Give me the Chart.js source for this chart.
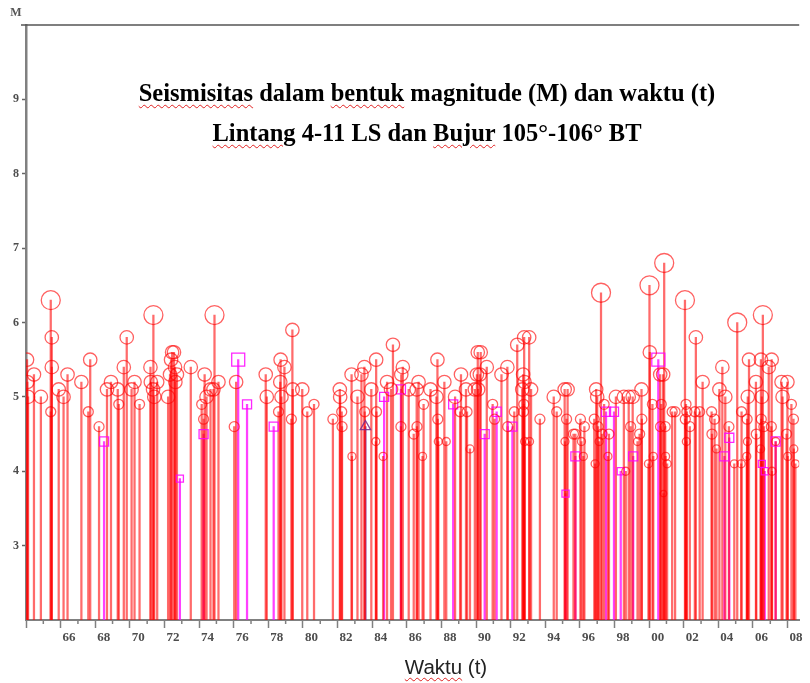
<!DOCTYPE html>
<html>
<head>
<meta charset="utf-8">
<script src="https://cdn.jsdelivr.net/npm/chart.js@4.4.1/dist/chart.umd.min.js"></script>
<style>
  html, body { margin: 0; padding: 0; background: #fff; overflow: hidden; }
  #wrap { position: relative; width: 810px; height: 683px; }
  #chart { position: absolute; left: 0; top: 0; }
  .ttl {
    position: absolute; left: 0; width: 854px; text-align: center;
    font-family: "Liberation Serif", "Times New Roman", serif; font-weight: bold;
    font-size: 24.5px; line-height: 30px; color: #000; white-space: nowrap;
  }
  .xlab {
    position: absolute; left: 0; width: 892px; top: 655px; text-align: center;
    font-family: "Liberation Sans", Arial, sans-serif; font-size: 20.5px; color: #222;
  }
  .spell { text-decoration: underline wavy #e02020; text-decoration-thickness: 1px; text-underline-offset: 3px; }
</style>
</head>
<body>
<div id="wrap">
  <canvas id="chart" width="810" height="683"></canvas>
  <div class="ttl" style="top:78px"><span class="spell">Seismisitas</span> dalam <span class="spell">bentuk</span> magnitude (M) dan waktu (t)</div>
  <div class="ttl" style="top:118px"><span class="spell">Lintang</span> 4-11 LS dan <span class="spell">Bujur</span> 105°-106° BT</div>
  <div class="xlab"><span class="spell">Waktu</span> (t)</div>
</div>
<script>
// Earthquake events (time in years, magnitude M)
const circleYears = [
  1964.06, 1964.08, 1964.12, 1964.46, 1964.86, 1965.43, 1965.49, 1965.49, 1965.43, 1965.89,
  1966.17, 1966.40, 1967.20, 1967.71, 1967.60, 1968.22, 1968.68, 1968.91, 1969.30, 1969.36,
  1969.65, 1969.82, 1970.10, 1970.27, 1970.56, 1971.19, 1971.36, 1971.21, 1971.34, 1971.41,
  1971.58, 1972.21, 1972.32, 1972.44, 1972.38,
  1972.55, 1972.61, 1972.72, 1972.63, 1973.52, 1974.32, 1974.15, 1974.26, 1974.43, 1974.66,
  1974.89, 1975.12, 1974.83, 1976.14, 1976.03, 1977.85, 1977.91, 1978.71, 1978.93, 1978.69,
  1978.76, 1978.59, 1979.39, 1979.41, 1979.33, 1979.96, 1980.25, 1980.64,
  1981.73, 1982.13, 1982.15, 1982.24, 1982.26, 1982.81, 1982.83, 1983.15, 1983.38, 1983.55,
  1983.57, 1984.23, 1983.95, 1984.25, 1984.21, 1984.63, 1984.86, 1985.20, 1985.09, 1985.66,
  1985.77, 1985.68, 1986.11, 1986.68, 1986.57, 1986.59, 1986.40, 1986.97, 1986.91, 1987.37,
  1987.77, 1987.71, 1987.79, 1987.82, 1988.17, 1988.28, 1988.79, 1989.13, 1989.08, 1989.48,
  1989.65, 1989.42, 1989.93, 1990.10, 1990.05,
  1990.27, 1990.22, 1990.62, 1990.12, 1990.96, 1991.07, 1991.47, 1991.81, 1991.83, 1992.21,
  1992.38, 1992.78, 1993.07, 1992.72, 1992.80, 1992.67, 1993.18, 1992.76, 1992.74, 1992.81,
  1993.09, 1993.69, 1994.49, 1994.66, 1995.12, 1995.29, 1995.23, 1995.14, 1995.63, 1995.74,
  1996.03, 1996.26, 1996.09, 1996.20, 1996.94, 1997.00, 1997.22, 1996.83, 1997.05, 1996.88,
  1997.11, 1997.28, 1997.62, 1997.68, 1997.40, 1998.08, 1998.54, 1998.82, 1998.65, 1998.93,
  2000.02, 2000.87, 2000.04, 2000.64, 2000.81, 1999.56, 1999.05, 2000.19, 2000.70, 2001.33,
  2001.50, 1999.58, 1999.45, 1999.33, 1999.96, 2000.24, 2000.66, 2000.93, 2000.95, 2001.04,
  2000.83, 2002.07, 2002.70, 2003.09, 2002.13, 2002.18, 2002.09, 2002.15, 2002.35, 2002.64,
  2002.92, 2003.61, 2003.78, 2003.63, 2003.89, 2004.23, 2004.06, 2004.40, 2004.61, 2004.92,
  2005.32, 2005.09, 2005.34, 2005.66, 2005.68, 2005.64, 2005.77, 2006.46, 2007.08, 2006.57,
  2006.17, 2005.70, 2006.51, 2006.91, 2006.48, 2006.63, 2006.19, 2006.44, 2007.10, 2007.06,
  2007.31, 2007.65, 2007.99, 2007.71, 2008.22, 2008.34, 2007.94, 2008.36, 2008.01, 2008.45
];
const circleMags = [
  5.5, 5.2, 5.0, 5.3, 5.0, 6.3, 5.8, 5.4, 4.8, 5.1,
  5.0, 5.3, 5.2, 5.5, 4.8, 4.6, 5.1, 5.2, 5.1, 4.9,
  5.4, 5.8, 5.1, 5.2, 4.9, 5.4, 6.1, 5.2, 5.1, 5.0,
  5.2, 5.0, 5.3, 5.6, 5.5,
  5.6, 5.4, 5.3, 5.2, 5.4, 5.3, 4.9, 4.7, 5.0, 5.1,
  6.1, 5.2, 5.1, 5.2, 4.6, 5.3, 5.0, 5.5, 5.4, 5.2,
  5.0, 4.8, 5.9, 5.1, 4.7, 5.1, 4.8, 4.9,
  4.7, 5.1, 5.0, 4.8, 4.6, 5.3, 4.2, 5.0, 5.3, 5.4,
  4.8, 5.5, 5.1, 4.8, 4.4, 4.2, 5.2, 5.7, 5.1, 4.6,
  5.4, 5.3, 5.1, 5.2, 5.1, 4.6, 4.5, 4.9, 4.2, 5.1,
  5.5, 5.0, 4.7, 4.4, 5.2, 4.4, 5.0, 5.3, 4.8, 4.8,
  4.3, 5.1, 5.1, 5.6, 5.3,
  5.6, 5.3, 5.4, 5.1, 4.9, 4.7, 5.3, 5.4, 4.6, 4.8,
  5.7, 5.8, 5.8, 5.3, 5.2, 5.1, 5.1, 4.9, 4.8, 4.4,
  4.4, 4.7, 5.0, 4.8, 5.1, 5.1, 4.7, 4.4, 4.5, 4.5,
  4.7, 4.6, 4.4, 4.2, 5.1, 5.0, 6.4, 4.7, 4.6, 4.1,
  4.4, 4.5, 4.2, 4.5, 4.9, 5.0, 5.0, 5.0, 4.0, 4.6,
  6.5, 6.8, 5.6, 5.3, 5.3, 5.1, 5.0, 4.9, 4.9, 4.8,
  4.8, 4.7, 4.5, 4.4, 4.1, 4.2, 4.6, 4.6, 4.2, 4.1,
  3.7, 6.3, 5.8, 5.2, 4.9, 4.8, 4.7, 4.4, 4.6, 4.8,
  4.8, 4.8, 4.7, 4.5, 4.3, 5.4, 5.1, 5.0, 4.6, 4.1,
  4.1, 6.0, 4.8, 4.7, 4.4, 4.2, 5.5, 5.5, 5.5, 6.1,
  5.2, 5.0, 5.0, 5.4, 4.7, 4.6, 4.5, 4.3, 4.0, 4.6,
  4.4, 5.2, 5.2, 5.0, 4.9, 4.7, 4.5, 4.3, 4.2, 4.1
];
const squareYears = [
  1968.51, 1972.89, 1974.26, 1976.26, 1976.77, 1978.31, 1984.69, 1985.66, 1988.68, 1990.50,
  1991.19, 1992.10, 1995.17, 1995.74, 1997.51, 1997.97, 1998.36, 1999.08, 2000.53, 2004.63,
  2004.35, 2006.51, 2006.68, 2007.31
];
const squareMags = [
  4.4, 3.9, 4.5, 5.5, 4.9, 4.6, 5.0, 5.1, 4.9, 4.5,
  4.8, 4.6, 3.7, 4.2, 4.8, 4.8, 4.0, 4.2, 5.5, 4.45,
  4.2, 4.1, 4.0, 4.4
];
const triangleYears = [1983.61];
const triangleMags = [4.6];

const yMin = 2, yMax = 10;
const xMin = 1964, xMax = 2008.67;
const yTickLabels = [3, 4, 5, 6, 7, 8, 9];

const toPoints = (xs, ys) => xs.map((x, i) => ({ x: x, y: ys[i] }));
const circles = toPoints(circleYears, circleMags);
const squares = toPoints(squareYears, squareMags);
const triangles = toPoints(triangleYears, triangleMags);

function circleRadius(m) {
    if (m >= 6) return 9.5;
    if (m >= 5) return 6.7;
    if (m >= 4.5) return 5;
    if (m >= 4) return 4;
    return 3.2;
}
function squareRadius(m) {
    if (m >= 5.5) return 9.2;
    if (m >= 4.2) return 6.4;
    return 5;
}

// top frame line, "M" label and short minor ticks on the time axis
const framePlugin = {
    id: 'frame',
    afterDraw(chart) {
        const c = chart.ctx;
        const area = chart.chartArea;
        const xs = chart.scales.x;
        c.save();
        c.strokeStyle = '#555';
        c.lineWidth = 1.5;
        c.beginPath();
        c.moveTo(area.left - 5, area.top);
        c.lineTo(area.right, area.top);
        c.stroke();

        c.strokeStyle = '#808080';
        c.lineWidth = 1.5;
        for (let yr = xMin + 1; yr <= xMax; yr += 2) {
            const px = xs.getPixelForValue(yr);
            c.beginPath();
            c.moveTo(px, area.bottom);
            c.lineTo(px, area.bottom + 4);
            c.stroke();
        }

        c.fillStyle = '#555';
        c.font = 'bold 12px "Liberation Serif", serif';
        c.textAlign = 'center';
        c.textBaseline = 'middle';
        c.fillText('M', 16, 13);
        c.restore();
    }
};

const ctx = document.getElementById('chart').getContext('2d');
new Chart(ctx, {
    type: 'scatter',
    data: {
        datasets: [
            {
                type: 'bar', data: circles, backgroundColor: 'rgba(255, 0, 0, 0.58)',
                barThickness: 1.6, grouped: false, order: 3
            },
            {
                type: 'bar', data: squares, backgroundColor: 'rgba(255, 0, 255, 0.75)',
                barThickness: 1.6, grouped: false, order: 3
            },
            {
                type: 'bar', data: triangles, backgroundColor: 'rgba(120, 40, 140, 0.8)',
                barThickness: 1.6, grouped: false, order: 3
            },
            {
                type: 'scatter', data: circles, pointStyle: 'circle',
                pointRadius: c => circleRadius(c.raw.y),
                pointBorderColor: 'rgba(255, 0, 0, 0.62)',
                pointBackgroundColor: 'rgba(0, 0, 0, 0)',
                pointBorderWidth: 1.3, order: 1
            },
            {
                type: 'scatter', data: squares, pointStyle: 'rect',
                pointRadius: c => squareRadius(c.raw.y),
                pointBorderColor: 'rgba(255, 0, 255, 0.85)',
                pointBackgroundColor: 'rgba(0, 0, 0, 0)',
                pointBorderWidth: 1.3, order: 1
            },
            {
                type: 'scatter', data: triangles, pointStyle: 'triangle',
                pointRadius: 6,
                pointBorderColor: 'rgba(120, 40, 140, 0.85)',
                pointBackgroundColor: 'rgba(0, 0, 0, 0)',
                pointBorderWidth: 1.3, order: 1
            }
        ]
    },
    options: {
        responsive: false,
        animation: false,
        layout: { padding: { top: 25, left: 0, right: 0, bottom: 0 } },
        plugins: {
            legend: { display: false },
            tooltip: { enabled: false }
        },
        scales: {
            x: {
                type: 'linear',
                min: xMin,
                max: xMax,
                offset: false,
                afterFit: s => { s.height = 63; },
                border: { color: '#808080', width: 2 },
                grid: {
                    drawOnChartArea: false,
                    offset: false,
                    tickLength: 8,
                    tickWidth: 1.5,
                    tickColor: c => (c.tick && c.tick.value % 2 === 0) ? '#808080' : 'rgba(0,0,0,0)'
                },
                ticks: {
                    stepSize: 1,
                    autoSkip: false,
                    includeBounds: false,
                    maxRotation: 0,
                    align: 'start',
                    labelOffset: 2,
                    padding: 2,
                    color: '#4d4d4d',
                    font: { family: '"Liberation Serif", serif', size: 13, weight: 'bold' },
                    callback: v => (v % 2 === 0 && v >= 1966) ? String(v % 100).padStart(2, '0') : ''
                }
            },
            y: {
                min: yMin,
                max: yMax,
                afterFit: s => { s.width = 26; },
                border: { color: '#808080', width: 2.5 },
                grid: {
                    drawOnChartArea: false,
                    tickLength: 4,
                    tickWidth: 1.5,
                    tickColor: c => (c.tick && yTickLabels.includes(c.tick.value)) ? '#666' : 'rgba(0,0,0,0)'
                },
                ticks: {
                    stepSize: 1,
                    padding: 3,
                    color: '#4d4d4d',
                    font: { family: '"Liberation Serif", serif', size: 12, weight: 'bold' },
                    callback: v => yTickLabels.includes(v) ? String(v) : ''
                }
            }
        }
    },
    plugins: [framePlugin]
});
</script>
</body>
</html>
